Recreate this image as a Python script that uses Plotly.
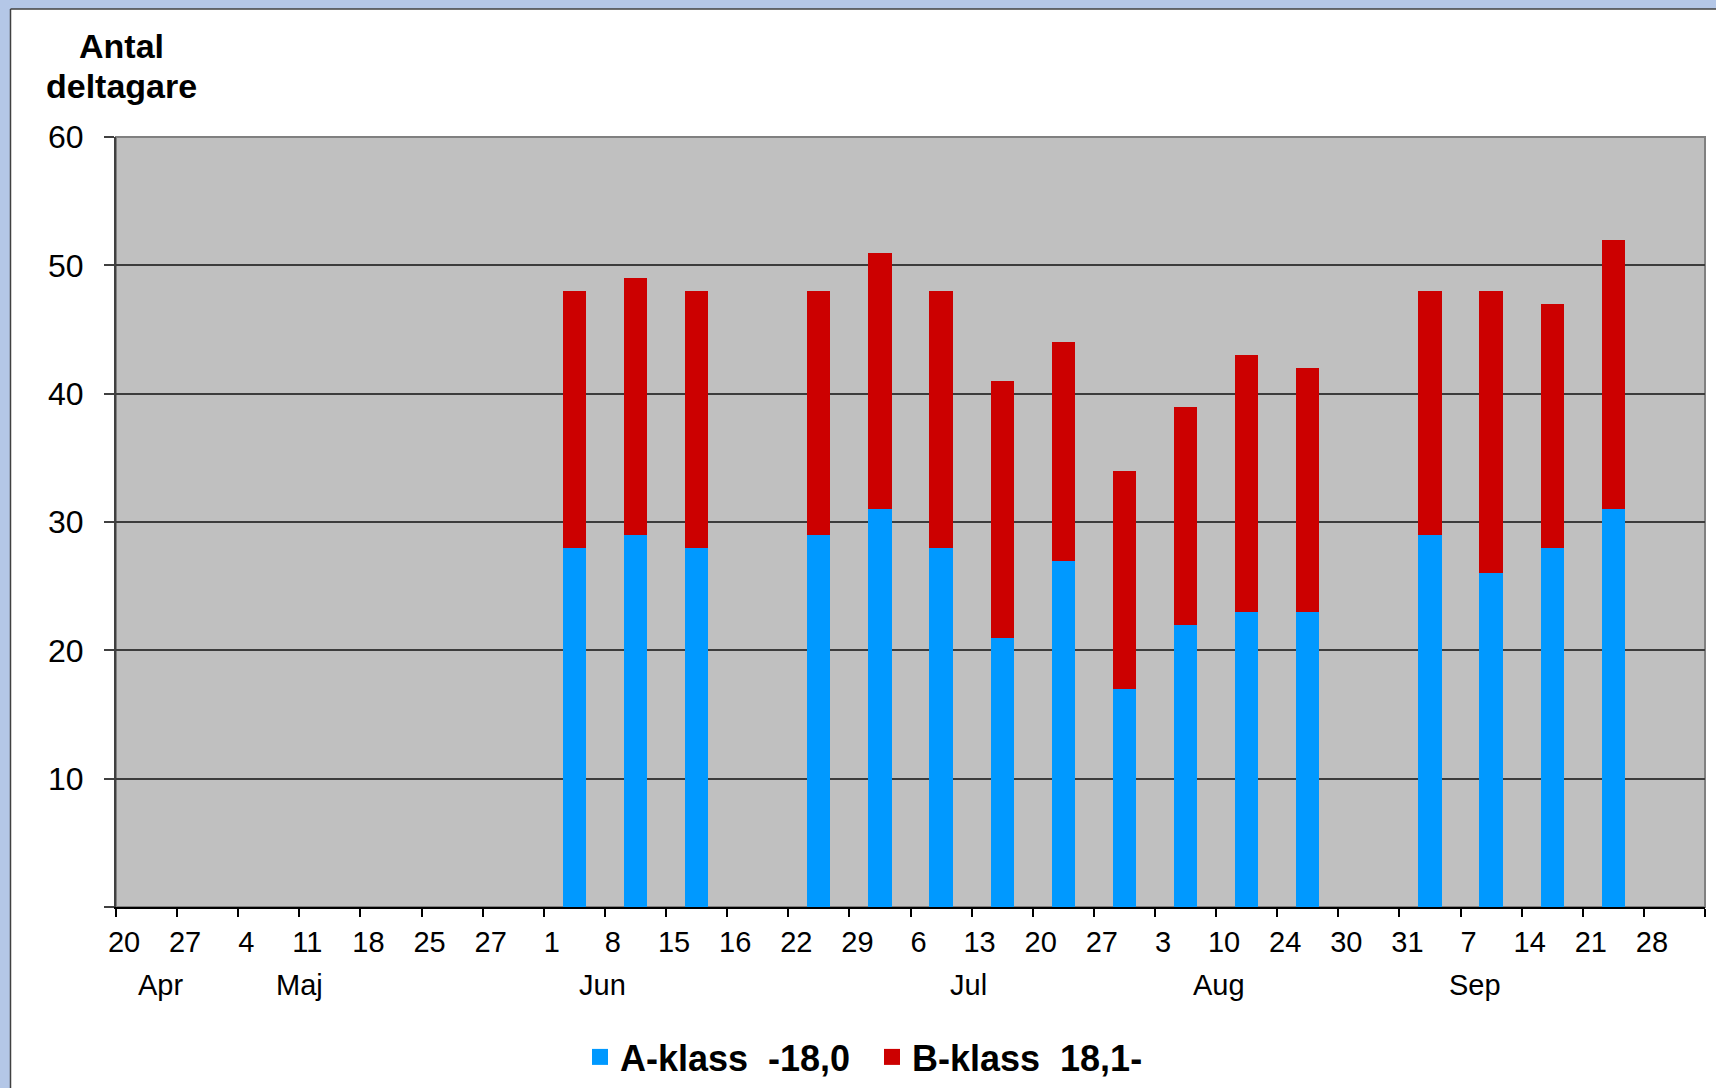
import plotly.graph_objects as go

# ---------------- data ----------------
week_labels = ["20", "27", "4", "11", "18", "25", "27", "1", "8", "15", "16", "22", "29",
               "6", "13", "20", "27", "3", "10", "24", "30", "31", "7", "14", "21", "28"]
a_klass = [None, None, None, None, None, None, None, 28, 29, 28, None, 29, 31,
           28, 21, 27, 17, 22, 23, 23, None, 29, 26, 28, 31, None]
b_klass = [None, None, None, None, None, None, None, 20, 20, 20, None, 19, 20,
           20, 20, 17, 17, 17, 20, 19, None, 19, 22, 19, 21, None]
month_labels = ["Apr", "Maj", "Jun", "Jul", "Aug", "Sep"]
month_anchor = [0.72, 3.0, 7.96, 13.95, 18.05, 22.24]   # position on category axis
y_ticks = [0, 10, 20, 30, 40, 50, 60]
series_names = ["A-klass  -18,0", "B-klass  18,1-"]
series_colors = ["#0099FF", "#CC0000"]
title_lines = ["Antal", "deltagare"]

# ---------------- layout geometry ----------------
W, H = 1716, 1088
ML, MR, MT, MB = 116, 11, 137, 181
PW, PH = W - ML - MR, H - MT - MB


def px_x(p):
    return (p - ML) / PW


def px_y(p):
    return (H - MB - p) / PH


FONT = "Liberation Sans, Arial, sans-serif"
n = len(week_labels)
x_pos = [i + 0.5 for i in range(n)]

fig = go.Figure()
for name, vals, col in zip(series_names, [a_klass, b_klass], series_colors):
    fig.add_trace(go.Bar(x=x_pos, y=vals, name=name, width=0.38,
                         marker=dict(color=col, line=dict(width=0)),
                         showlegend=False, hoverinfo="skip"))
for name, col in zip(series_names, series_colors):
    # legend entry with a larger square symbol
    fig.add_trace(go.Scatter(x=[None], y=[None], mode="markers", name=name,
                             marker=dict(symbol="square", size=16, color=col)))

# month labels (second row of category axis)
annotations = []
for m, pos in zip(month_labels, month_anchor):
    annotations.append(dict(x=pos, xref="x", y=px_y(985), yref="paper", text=m,
                            showarrow=False, xanchor="center", yanchor="middle",
                            font=dict(family=FONT, size=29, color="black")))
for line, ypx in zip(title_lines, [46, 86]):
    annotations.append(dict(x=px_x(121), xref="paper", y=px_y(ypx), yref="paper",
                            text=line, showarrow=False,
                            xanchor="center", yanchor="middle",
                            font=dict(family=FONT, size=34, color="black", weight="bold")))

shapes = [
    # slide background strips (top and left)
    dict(type="rect", xref="paper", yref="paper", x0=px_x(-5), x1=px_x(W + 5),
         y0=px_y(9), y1=px_y(-5), fillcolor="#B4C7E7", line=dict(width=0)),
    dict(type="rect", xref="paper", yref="paper", x0=px_x(-5), x1=px_x(10),
         y0=px_y(H + 5), y1=px_y(-5), fillcolor="#B4C7E7", line=dict(width=0)),
    dict(type="line", xref="paper", yref="paper", x0=px_x(10.5), x1=px_x(W + 5),
         y0=px_y(9), y1=px_y(9), line=dict(color="#404040", width=1.5)),
    dict(type="line", xref="paper", yref="paper", x0=px_x(10.5), x1=px_x(10.5),
         y0=px_y(9), y1=px_y(H + 5), line=dict(color="#404040", width=1.5)),
    # plot-area border (top/right gray)
    dict(type="rect", xref="paper", yref="paper", x0=0, x1=1, y0=0, y1=1,
         line=dict(color="#808080", width=2), layer="below"),
]

fig.update_layout(
    width=W, height=H,
    margin=dict(l=ML, r=MR, t=MT, b=MB, pad=0, autoexpand=False),
    paper_bgcolor="white",
    plot_bgcolor="#C0C0C0",
    barmode="stack",
    bargap=0,
    font=dict(family=FONT, color="black"),
    xaxis=dict(range=[0, n], tickmode="array", tickvals=list(range(n + 1)),
               ticktext=week_labels + [""], ticks="outside", ticklen=8, tickwidth=2,
               tickcolor="black", showline=True, linecolor="black", linewidth=2,
               showgrid=False, zeroline=False, ticklabelshift=8, ticklabelstandoff=0,
               tickfont=dict(size=29, color="black", family=FONT), fixedrange=True),
    xaxis2=dict(range=[0, n], overlaying="x", anchor="y", side="bottom",
                tickmode="array", tickvals=list(range(n + 1)), ticks="inside",
                ticklen=8, tickwidth=2, tickcolor="black", showticklabels=False,
                showline=False, showgrid=False, zeroline=False),
    yaxis=dict(range=[0, 60], tickmode="array", tickvals=y_ticks,
               ticktext=[""] + [str(v) for v in y_ticks[1:]], ticks="outside",
               ticklen=10, tickwidth=2, tickcolor="#404040", showline=True,
               linecolor="#404040", linewidth=2, showgrid=True, gridcolor="#3C3C3C",
               gridwidth=2, zeroline=False, ticklabelstandoff=14,
               tickfont=dict(size=32, color="black", family=FONT), fixedrange=True),
    legend=dict(orientation="h", x=px_x(872), xanchor="center", y=px_y(1057),
                yanchor="middle", bgcolor="rgba(0,0,0,0)", traceorder="normal",
                entrywidth=247, entrywidthmode="pixels",
                font=dict(family=FONT, size=36, color="black", weight="bold")),
    annotations=annotations,
    shapes=shapes,
)

fig.write_html("out.html", config={"displayModeBar": False},
               post_script="document.body.style.margin='0';")
